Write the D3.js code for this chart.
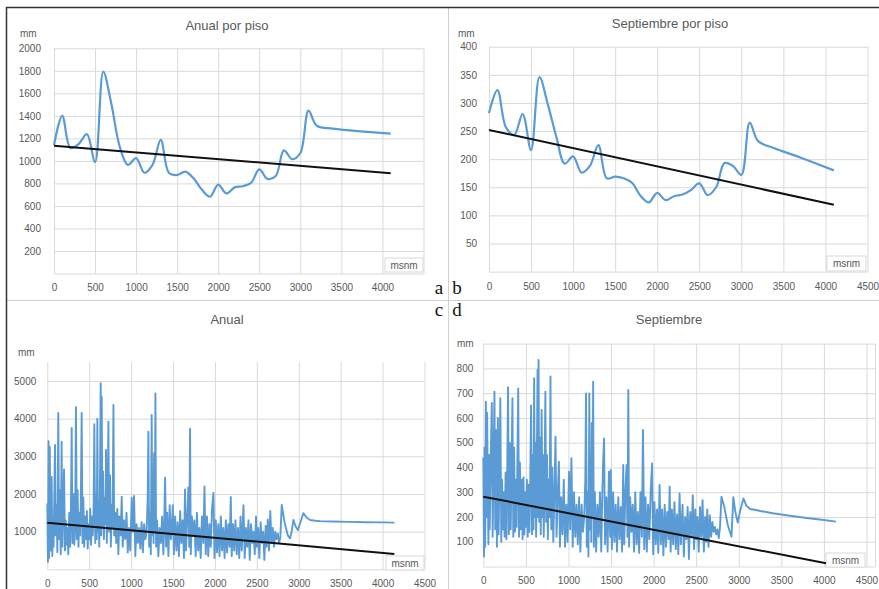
<!DOCTYPE html>
<html>
<head>
<meta charset="utf-8">
<script src="https://cdn.jsdelivr.net/npm/d3@7"></script>
<style>
  body { margin: 0; background: #fff; }
  svg { display: block; font-family: "Liberation Sans", Arial, sans-serif; }
</style>
</head>
<body>
<svg id="chart" width="879" height="589"></svg>
<script>
// ---------- Promedios por piso altitudinal (paneles a y b) ----------
const pisoElev = [0, 100, 200, 300, 400, 500, 600, 700, 800, 900, 1000, 1100, 1200, 1300, 1400, 1500,
  1600, 1700, 1800, 1900, 2000, 2100, 2200, 2300, 2400, 2500, 2600, 2700, 2800, 2900, 3000, 3100,
  3200, 3400, 3700, 4100];
const anualPiso = [1140, 1400, 1115, 1150, 1238, 990, 1792, 1500, 1128, 965, 1025, 895, 965, 1186, 893, 875,
  905, 845, 745, 682, 790, 711, 765, 775, 805, 925, 840, 865, 1093, 1015, 1070, 1446,
  1312, 1287, 1264, 1242];
const septPiso = [282, 323, 257, 243, 280, 216, 346, 297, 240, 192, 205, 176, 188, 225, 166, 169,
  166, 158, 135, 123, 140, 127, 134, 137, 145, 157, 136, 150, 193, 188, 172, 265,
  232, 219, 203, 180];

// ---------- Estaciones individuales (paneles c y d) ----------
const estElev = [
  0, 8, 15, 22, 30, 38, 45, 52, 60, 68,
  75, 85, 92, 100, 110, 120, 131, 140, 150, 160,
  171, 180, 190, 200, 211, 220, 230, 240, 250, 262,
  272, 282, 291, 300, 312, 322, 332, 342, 352, 362,
  372, 382, 392, 400, 410, 420, 430, 440, 452, 462,
  472, 482, 492, 502, 512, 522, 532, 542, 552, 561,
  572, 582, 590, 597, 605, 612, 620, 628, 637, 643,
  649, 657, 665, 675, 685, 695, 700, 710, 720, 729,
  738, 748, 758, 768, 778, 789, 798, 810, 822, 835,
  848, 860, 875, 888, 900, 915, 930, 945, 960, 975,
  990, 1007, 1020, 1035, 1050, 1065, 1080, 1095, 1110, 1125,
  1140, 1155, 1170, 1185, 1198, 1206, 1215, 1225, 1235, 1245,
  1254, 1262, 1268, 1274, 1282, 1290, 1298, 1310, 1325, 1340,
  1355, 1370, 1385, 1395, 1405, 1418, 1430, 1445, 1460, 1475,
  1490, 1497, 1510, 1525, 1540, 1555, 1570, 1585, 1600, 1615,
  1630, 1643, 1655, 1668, 1683, 1693, 1703, 1712, 1725, 1740,
  1755, 1770, 1785, 1800, 1815, 1830, 1845, 1862, 1875, 1890,
  1905, 1920, 1935, 1950, 1965, 1982, 1995, 2010, 2025, 2040,
  2055, 2070, 2085, 2100, 2115, 2130, 2145, 2160, 2175, 2189,
  2200, 2215, 2230, 2245, 2260, 2275, 2290, 2305, 2320, 2340,
  2355, 2370, 2385, 2400, 2415, 2430, 2447, 2460, 2475, 2490,
  2500, 2515, 2530, 2545, 2560, 2575, 2590, 2605, 2617, 2630,
  2645, 2660, 2675, 2690, 2705, 2720, 2735, 2750, 2765, 2780,
  2797, 2830, 2870, 2896, 2915, 2936, 2960, 2988, 3020, 3055,
  3090, 3135, 3200, 3254, 3400, 3600, 3800, 4000, 4141];

const anualEst = [
  1750, 200, 3400, 300, 3250, 500, 1500, 2450, 350, 1200,
  600, 2200, 3300, 900, 1700, 450, 4150, 800, 2100, 400,
  3390, 600, 1600, 2650, 500, 1300, 650, 1100, 400, 1500,
  600, 1600, 3750, 700, 2000, 650, 1200, 4300, 800, 2100,
  600, 1500, 900, 1800, 4150, 700, 1900, 600, 1400, 800,
  1550, 550, 1200, 800, 1600, 650, 1400, 900, 1500, 3850,
  700, 2000, 800, 4000, 1000, 1600, 600, 2200, 4940, 900,
  4580, 1100, 2600, 800, 1900, 1200, 3170, 700, 1800, 3920,
  1000, 2500, 600, 1700, 1100, 4360, 900, 1500, 700, 1600,
  400, 1400, 900, 1930, 600, 1300, 800, 1500, 450, 1100,
  500, 1900, 1000, 1950, 350, 1200, 700, 1100, 550, 1250,
  450, 1200, 800, 1000, 1900, 3650, 600, 1500, 400, 4100,
  900, 1800, 700, 3080, 1000, 4670, 600, 1300, 350, 1100,
  700, 1400, 400, 1200, 2430, 600, 1500, 350, 1700, 800,
  1300, 1700, 400, 1400, 500, 1250, 350, 1550, 700, 1300,
  300, 2120, 500, 1300, 2170, 600, 3730, 400, 1400, 900,
  1300, 350, 1500, 500, 1100, 300, 1400, 700, 2200, 400,
  1400, 350, 1200, 600, 1600, 2030, 300, 1300, 450, 1200,
  350, 1400, 500, 1100, 300, 1300, 450, 1200, 600, 1920,
  350, 1200, 500, 1300, 400, 1100, 300, 1400, 500, 1700,
  300, 1100, 600, 1300, 250, 1200, 700, 1000, 400, 1400,
  600, 1100, 300, 1250, 700, 1000, 250, 1150, 600, 1320,
  500, 1550, 700, 1100, 600, 1000, 800, 950, 700, 850,
  1710, 1250, 900, 820, 1000, 1310, 1150, 1040, 1250, 1490,
  1380, 1310, 1290, 1280, 1270, 1260, 1250, 1245, 1240];

const septEst = [
  440, 40, 480, 80, 665, 200, 620, 350, 90, 450,
  150, 380, 520, 660, 120, 400, 706, 150, 550, 80,
  600, 130, 400, 680, 100, 350, 150, 300, 120, 380,
  110, 420, 724, 130, 500, 150, 400, 680, 120, 480,
  140, 350, 160, 420, 719, 120, 420, 150, 350, 110,
  360, 130, 300, 160, 350, 120, 330, 140, 360, 650,
  130, 450, 150, 760, 200, 500, 120, 400, 794, 200,
  834, 180, 520, 130, 632, 200, 450, 120, 400, 706,
  180, 450, 110, 350, 200, 767, 150, 400, 100, 300,
  524, 120, 300, 423, 80, 280, 130, 350, 80, 250,
  100, 383, 150, 437, 80, 300, 120, 250, 90, 280,
  60, 250, 140, 200, 350, 699, 80, 300, 40, 699,
  150, 450, 100, 580, 200, 746, 80, 300, 60, 250,
  120, 300, 60, 250, 400, 517, 90, 280, 60, 383,
  120, 390, 70, 300, 100, 250, 60, 280, 110, 240,
  60, 410, 90, 300, 410, 120, 713, 80, 280, 140,
  250, 60, 300, 90, 220, 55, 300, 120, 551, 70,
  280, 60, 250, 110, 300, 416, 50, 260, 90, 230,
  55, 329, 90, 230, 45, 250, 80, 220, 110, 322,
  60, 230, 90, 260, 70, 210, 50, 295, 90, 250,
  40, 200, 110, 240, 30, 220, 120, 288, 70, 230,
  110, 200, 60, 240, 120, 268, 60, 200, 100, 230,
  80, 207, 120, 180, 140, 160, 130, 150, 115, 160,
  282, 240, 170, 140, 120, 280, 220, 177, 230, 275,
  245, 232, 228, 224, 215, 205, 196, 188, 181];

// ---------- Rectas de tendencia (extremos) ----------
const tendAnualPiso = { x: [0, 4100], y: [1135, 890] };
const tendSeptPiso  = { x: [0, 4100], y: [252, 119] };
const tendAnualEst  = { x: [0, 4140], y: [1238, 405] };
const tendSeptEst   = { x: [0, 4025], y: [282, 13] };

// ---------- Ejes ----------
const xTicks45 = [0, 500, 1000, 1500, 2000, 2500, 3000, 3500, 4000, 4500];
const xTicks40 = [0, 500, 1000, 1500, 2000, 2500, 3000, 3500, 4000];
const yTicksA = [0, 200, 400, 600, 800, 1000, 1200, 1400, 1600, 1800, 2000];
const yTicksB = [0, 50, 100, 150, 200, 250, 300, 350, 400];
const yTicksC = [0, 1000, 2000, 3000, 4000, 5000];
const yTicksD = [0, 100, 200, 300, 400, 500, 600, 700, 800, 900];

const BLUE = "#5B9BD5", GRID = "#d9d9d9", TXT = "#595959";
const svg = d3.select("#chart");

function zip(xs, ys) { return xs.map((v, i) => [v, ys[i]]); }

function panel(cfg) {
  const x = d3.scaleLinear().domain(cfg.xDomain).range(cfg.xRange);
  const y = d3.scaleLinear().domain(cfg.yDomain).range(cfg.yRange);
  const [left, right] = cfg.xRange;
  const [bottom, top] = cfg.yRange;
  const g = svg.append("g");

  // horizontal gridlines
  g.append("g").attr("transform", `translate(${left},0)`)
    .call(d3.axisLeft(y).tickValues(cfg.yGrid).tickSize(-(right - left)).tickFormat(""))
    .call(s => { s.select(".domain").remove(); s.selectAll("line").attr("stroke", GRID); });
  // vertical gridlines
  g.append("g").attr("transform", `translate(0,${bottom})`)
    .call(d3.axisBottom(x).tickValues(cfg.xGrid).tickSize(-(bottom - top)).tickFormat(""))
    .call(s => { s.select(".domain").remove(); s.selectAll("line").attr("stroke", GRID); });

  // y tick labels
  g.append("g").attr("transform", `translate(${left},0)`)
    .call(d3.axisLeft(y).tickValues(cfg.yLabels).tickSize(0).tickPadding(cfg.yPad).tickFormat(d3.format("d")))
    .call(s => { s.select(".domain").remove(); s.selectAll("text").attr("fill", TXT).style("font-size", "10px"); });
  // x tick labels
  g.append("g").attr("transform", `translate(0,${bottom})`)
    .call(d3.axisBottom(x).tickValues(cfg.xLabels).tickSize(0).tickPadding(cfg.xPad).tickFormat(d3.format("d")))
    .call(s => { s.select(".domain").remove(); s.selectAll("text").attr("fill", TXT).style("font-size", "10px"); });

  // "msnm" axis caption box
  const mb = cfg.msnm;
  g.append("rect").attr("x", mb[0]).attr("y", mb[1]).attr("width", mb[2]).attr("height", mb[3])
    .attr("fill", "#fff").attr("stroke", GRID);
  g.append("text").attr("x", mb[0] + mb[2] / 2).attr("y", mb[1] + mb[3] / 2).attr("dy", "0.35em")
    .attr("text-anchor", "middle").attr("fill", TXT).style("font-size", "10px").text("msnm");

  // data series
  const line = d3.line().x(d => x(d[0])).y(d => y(d[1])).curve(cfg.curve);
  g.append("path").datum(zip(cfg.xs, cfg.ys))
    .attr("fill", "none").attr("stroke", BLUE).attr("stroke-width", cfg.sw)
    .attr("stroke-linejoin", "round").attr("d", line);

  // trend line
  g.append("path").datum(zip(cfg.trend.x, cfg.trend.y))
    .attr("fill", "none").attr("stroke", "#111").attr("stroke-width", 2)
    .attr("d", d3.line().x(d => x(d[0])).y(d => y(d[1])));

  // title and unit
  g.append("text").attr("x", cfg.title[1]).attr("y", cfg.title[2]).attr("dy", "0.35em")
    .attr("text-anchor", "middle").attr("fill", TXT).style("font-size", "13px").text(cfg.title[0]);
  g.append("text").attr("x", cfg.mm[0]).attr("y", cfg.mm[1]).attr("dy", "0.35em")
    .attr("fill", TXT).style("font-size", "10px").text("mm");
}

// figure frame and separators
svg.append("line").attr("x1", 448.5).attr("x2", 448.5).attr("y1", 7).attr("y2", 589).attr("stroke", "#d0d0d0");
svg.append("line").attr("x1", 7).attr("x2", 879).attr("y1", 300.5).attr("y2", 300.5).attr("stroke", "#d0d0d0");
svg.append("line").attr("x1", 6).attr("x2", 879).attr("y1", 7.5).attr("y2", 7.5).attr("stroke", "#333").attr("stroke-width", 1.5);
svg.append("line").attr("x1", 6.5).attr("x2", 6.5).attr("y1", 7).attr("y2", 589).attr("stroke", "#333").attr("stroke-width", 1.5);

// a) Anual por piso
panel({
  xDomain: [0, 4500], xRange: [54, 423.5], yDomain: [0, 2000], yRange: [273.5, 48.3],
  xGrid: xTicks45, yGrid: yTicksA, xLabels: xTicks40, yLabels: yTicksA.slice(1),
  yPad: 13, xPad: 10, xs: pisoElev, ys: anualPiso, trend: tendAnualPiso,
  curve: d3.curveCatmullRom.alpha(0.5), sw: 2.2,
  title: ["Anual por piso", 227, 25], mm: [20, 33], msnm: [385, 258, 38, 14]
});
// b) Septiembre por piso
panel({
  xDomain: [0, 4500], xRange: [489, 867.5], yDomain: [0, 400], yRange: [271.6, 46.7],
  xGrid: xTicks45, yGrid: yTicksB, xLabels: xTicks45, yLabels: yTicksB.slice(1),
  yPad: 12, xPad: 11, xs: pisoElev, ys: septPiso, trend: tendSeptPiso,
  curve: d3.curveCatmullRom.alpha(0.5), sw: 2.2,
  title: ["Septiembre por piso", 670, 23], mm: [458, 33], msnm: [827, 256, 39, 15]
});
// c) Anual
panel({
  xDomain: [0, 4500], xRange: [47.3, 424.5], yDomain: [0, 5500], yRange: [569.3, 362.1],
  xGrid: xTicks45, yGrid: yTicksC, xLabels: xTicks45, yLabels: yTicksC.slice(1),
  yPad: 11, xPad: 11, xs: estElev, ys: anualEst, trend: tendAnualEst,
  curve: d3.curveLinear, sw: 1.9,
  title: ["Anual", 227, 319], mm: [18, 352], msnm: [386, 556, 38, 14]
});
// d) Septiembre
panel({
  xDomain: [0, 4600], xRange: [483.3, 875], yDomain: [0, 900], yRange: [566.5, 343.6],
  xGrid: xTicks45.concat([4600]), yGrid: yTicksD, xLabels: xTicks45, yLabels: yTicksD.slice(1, 9),
  yPad: 10, xPad: 10, xs: estElev, ys: septEst, trend: tendSeptEst,
  curve: d3.curveLinear, sw: 1.9,
  title: ["Septiembre", 669, 319], mm: [457, 343], msnm: [826, 553, 39, 14]
});

// panel letters
const letters = [["a", 439, 294], ["b", 457, 294], ["c", 439, 315.5], ["d", 457, 315.5]];
svg.selectAll("text.letra").data(letters).join("text").attr("class", "letra")
  .attr("x", d => d[1]).attr("y", d => d[2]).attr("text-anchor", "middle")
  .attr("font-family", "'Liberation Serif', 'DejaVu Serif', serif").style("font-size", "19px")
  .attr("fill", "#111").text(d => d[0]);
</script>
</body>
</html>
